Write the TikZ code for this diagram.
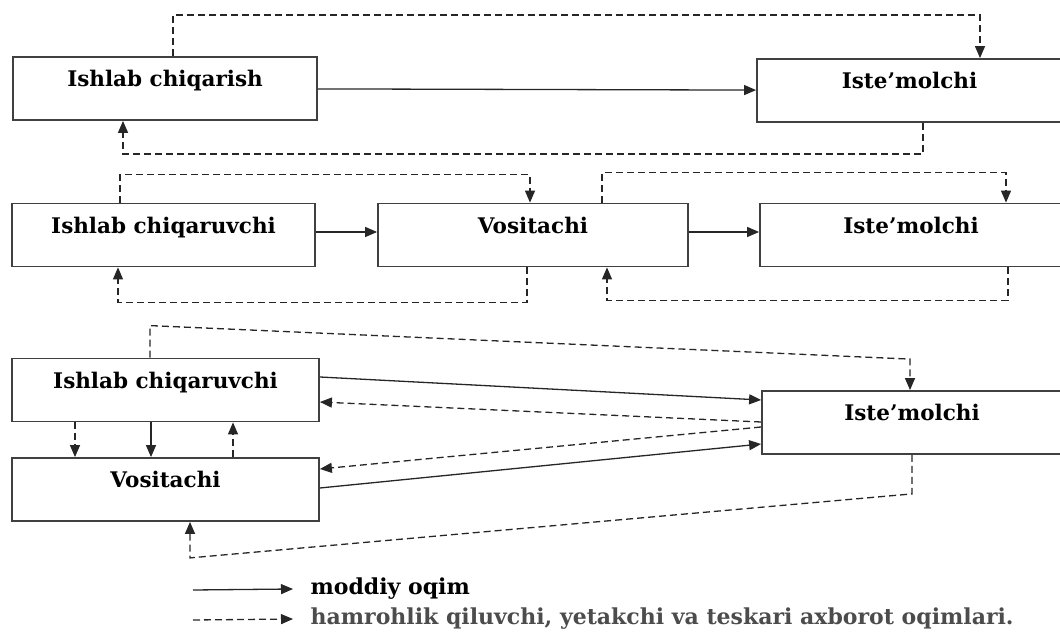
\documentclass[tikz,border=0pt]{standalone}
\usepackage{fontspec}
\setmainfont{DejaVu Serif}
\usetikzlibrary{arrows.meta}

\begin{document}
\begin{tikzpicture}[x=1pt,y=1pt,->,>={Triangle[length=12pt,width=10pt]},line width=1.3pt,draw=black!85,
    box node/.style={rectangle,draw=black!75,line width=1.8pt,inner sep=0pt,minimum width=304pt,text height=30pt,text depth=33pt,font=\fontsize{21.5}{25}\selectfont\bfseries},
    key node/.style={anchor=west,inner sep=0pt,font=\fontsize{22}{26}\selectfont\bfseries},
    info/.style={dash pattern=on 7pt off 4pt}]
    \clip (0,0) rectangle (1060,632);

    % first row
    \node[box node] (1) at (165,543.5) {Ishlab chiqarish};
    \node[box node, minimum width=305pt] (2) at (909.5,541.5) {Iste’molchi};

    % second row
    \node[box node, minimum width=303pt] (3) at (163.5,397) {Ishlab chiqaruvchi};
    \node[box node, minimum width=310pt] (4) at (533,397) {Vositachi};
    \node[box node, minimum width=302pt] (5) at (911,397) {Iste’molchi};

    % third row
    \node[box node, minimum width=307pt] (6) at (165.5,242) {Ishlab chiqaruvchi};
    \node[box node, minimum width=307pt] (7) at (165.5,142.5) {Vositachi};
    \node[box node, minimum width=300pt] (8) at (912,209.5) {Iste’molchi};

    % legend
    \coordinate (k1) at (193,42);
    \coordinate (k2) at (193,12);
    \node[key node] (9) at (310,43) {moddiy oqim};
    \node[key node, text=black!70] (10) at (310,13) {hamrohlik qiluvchi, yetakchi va teskari axborot oqimlari.};

    \path
        (1) edge (2)
        ([yshift=3pt]3.east) edge ([yshift=3pt]4.west)
        ([yshift=3pt]4.east) edge ([yshift=3pt]5.west)
        ([yshift=13pt]6.east) edge ([yshift=22.5pt]8.west)
        ([yshift=1.5pt]7.east) edge ([yshift=-21.5pt]8.west)
        ([xshift=-14.5pt]6.south) edge ([xshift=-14.5pt]7.north)
        (k1) edge ([xshift=-17pt]9.west)
        ;

    \draw[info] ([xshift=8pt]1.north) -- ++(0,41) -| ([xshift=70.5pt]2.north);
    \draw[info] ([xshift=13.5pt]2.south) -- ++(0,-31) -| ([xshift=-42pt]1.south);

    \draw[info] ([xshift=-43.5pt]3.north) -- ++(0,28) -| ([xshift=-3pt]4.north);
    \draw[info] ([xshift=-6pt]4.south) -- ++(0,-35) -| ([xshift=-45.5pt]3.south);
    \draw[info] ([xshift=69pt]4.north) -- ++(0,30) -| ([xshift=95pt]5.north);
    \draw[info] ([xshift=97pt]5.south) -- ++(0,-33) -| ([xshift=74pt]4.south);

    \draw[info] ([xshift=-15.5pt]6.north) -- ++(0,32) -- ([xshift=-2pt,yshift=31pt]8.north) -- ([xshift=-2pt]8.north);
    \draw[info] (8.south) -- ++(0,-39) -- ([xshift=24.5pt,yshift=-36pt]7.south) -- ([xshift=24.5pt]7.south);
    \draw[info] ([yshift=0.5pt]8.west) -- ([yshift=-12pt]6.east);
    \draw[info] ([yshift=-4.5pt]8.west) -- ([yshift=20.5pt]7.east);
    \draw[info] ([xshift=-90.5pt]6.south) -- ([xshift=-90.5pt]7.north);
    \draw[info] ([xshift=67.5pt]7.north) -- ([xshift=67.5pt]6.south);
    \draw[info] (k2) -- ([xshift=-17pt]10.west);
\end{tikzpicture}
\end{document}
